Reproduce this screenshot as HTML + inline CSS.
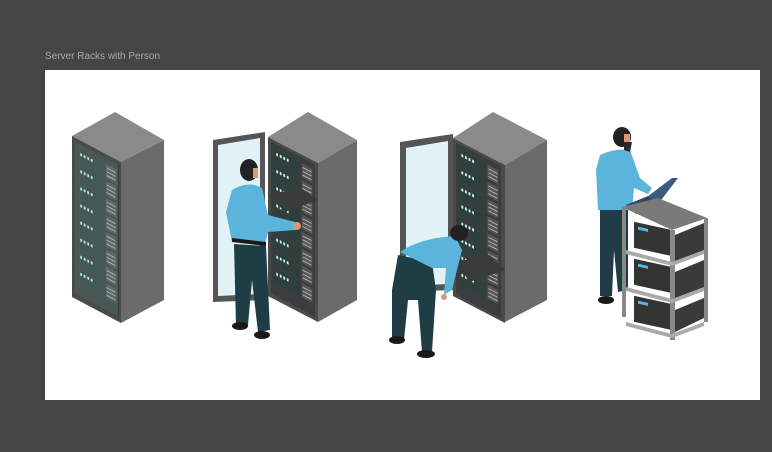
<!DOCTYPE html>
<html><head><meta charset="utf-8"><style>
html,body{margin:0;padding:0;background:#454545;width:772px;height:452px;overflow:hidden}
.lbl{position:absolute;left:45px;top:51px;font:10px "Liberation Sans",sans-serif;color:#a8a8a8}
svg{position:absolute;left:0;top:0}
</style></head><body>
<div class="lbl">Server Racks with Person</div>
<svg width="772" height="452" viewBox="0 0 772 452">
<defs>
<g id="units">
  <rect x="0" y="0" width="50" height="160" fill="#3a3d3d"/>
  <g id="u">
    <rect x="3" y="6" width="30" height="15" fill="#2e3f3c"/>
    <rect x="6" y="9" width="2" height="3" fill="#cfe"/><rect x="10" y="9" width="2" height="3" fill="#cfe"/><rect x="14" y="9" width="2" height="3" fill="#cfe"/><rect x="18" y="9" width="2" height="3" fill="#cfe"/>
    <rect x="35" y="6" width="12" height="15" fill="#555"/>
    <line x1="36" y1="10" x2="46" y2="10" stroke="#bbb" stroke-width="1"/><line x1="36" y1="14" x2="46" y2="14" stroke="#bbb" stroke-width="1"/><line x1="36" y1="18" x2="46" y2="18" stroke="#bbb" stroke-width="1"/>
  </g>
  <use href="#u" y="18"/><use href="#u" y="36"/><use href="#u" y="54"/><use href="#u" y="72"/><use href="#u" y="90"/><use href="#u" y="108"/><use href="#u" y="126"/>
</g>
</defs>
<rect x="45" y="70" width="715" height="330" fill="#fff"/>

<!-- Rack 1 -->
<polygon points="72,136 115,112 164,140 121,162" fill="#8a8a8a"/>
<polygon points="121,162 164,140 164,300 121,323" fill="#6b6b6b"/>
<g transform="matrix(1,0.53,0,1,72,136)">
  <rect x="0" y="0" width="49" height="161" fill="#4a4a4a"/>
  <g transform="translate(3,4) scale(0.88,0.95)"><use href="#units"/></g>
  <rect x="3" y="4" width="43" height="152" fill="#7fa8a0" opacity="0.25"/>
</g>

<!-- Rack 2 -->
<polygon points="213,140 265,132 265,300 213,302" fill="#555"/>
<polygon points="218,145 260,138 260,294 218,296" fill="#e2f3f8"/>
<polygon points="268,137 308,112 357,140 318,163" fill="#8a8a8a"/>
<polygon points="318,163 357,140 357,300 318,322" fill="#6b6b6b"/>
<g transform="matrix(1,0.52,0,1,268,137)">
  <rect x="0" y="0" width="50" height="159" fill="#4a4a4a"/>
  <g transform="translate(3,3) scale(0.88,0.95)"><use href="#units"/></g>
</g>
<polygon points="268,195 300,188 318,200 285,212" fill="#3b3b3b"/>
<!-- Person 1 -->
<polygon points="234,244 266,246 270,330 258,332 252,280 248,325 236,325" fill="#1f3d44"/>
<ellipse cx="240" cy="326" rx="8" ry="4" fill="#1a1a1a"/><ellipse cx="262" cy="335" rx="8" ry="4" fill="#1a1a1a"/>
<path d="M232,190 Q248,180 262,188 L268,215 L295,222 L296,230 L268,232 L265,245 L232,242 L226,212 Z" fill="#5ab4dc"/>
<polygon points="232,238 266,242 266,246 232,242" fill="#1a1a1a"/>
<ellipse cx="249" cy="170" rx="9" ry="11" fill="#222"/>
<rect x="253" y="168" width="5" height="10" fill="#d99a72"/>
<circle cx="297" cy="226" r="4" fill="#d99a72"/>

<!-- Rack 3 -->
<polygon points="400,142 453,134 453,290 400,292" fill="#555"/>
<polygon points="406,148 448,141 448,284 406,286" fill="#e2f3f8"/>
<polygon points="453,138 493,112 547,140 505,165" fill="#8a8a8a"/>
<polygon points="505,165 547,140 547,300 505,322" fill="#6b6b6b"/>
<g transform="matrix(1,0.52,0,1,453,138)">
  <rect x="0" y="0" width="52" height="158" fill="#4a4a4a"/>
  <g transform="translate(3,3) scale(0.9,0.95)"><use href="#units"/></g>
</g>
<polygon points="455,262 490,255 505,270 470,282" fill="#3b3b3b"/>
<!-- Person 2 -->
<polygon points="398,255 432,262 436,290 432,352 422,352 418,300 408,300 404,340 392,340 392,290" fill="#1f3d44"/>
<ellipse cx="397" cy="340" rx="8" ry="4" fill="#1a1a1a"/><ellipse cx="426" cy="354" rx="9" ry="4" fill="#1a1a1a"/>
<path d="M400,252 Q420,238 455,236 L462,250 L452,290 L444,295 L446,268 L432,268 Z" fill="#5ab4dc"/>
<ellipse cx="459" cy="233" rx="9" ry="8" fill="#222"/>
<circle cx="444" cy="297" r="3" fill="#d99a72"/>

<!-- Person 3 -->
<polygon points="600,208 628,206 628,290 618,292 614,250 612,296 600,296" fill="#1f3d44"/>
<ellipse cx="606" cy="300" rx="8" ry="4" fill="#1a1a1a"/>
<path d="M600,155 Q615,148 630,150 L640,178 L652,188 L648,194 L634,188 L632,210 L598,210 L596,170 Z" fill="#5ab4dc"/>
<ellipse cx="622" cy="137" rx="9" ry="10" fill="#222"/>
<rect x="624" y="134" width="6" height="8" fill="#d99a72"/>
<path d="M624,142 L632,142 L630,152 L624,150 Z" fill="#2a2a2a"/>
<polygon points="643,200 672,178 678,178 652,212" fill="#3d5a80"/>
<polygon points="626,205 648,196 660,205 636,214" fill="#2f4866"/>
<!-- Shelf -->
<polygon points="622,207 658,198 707,218 672,230" fill="#7a7a7a"/>
<rect x="622" y="207" width="4" height="110" fill="#888"/>
<rect x="704" y="218" width="4" height="104" fill="#888"/>
<rect x="670" y="230" width="5" height="110" fill="#888"/>
<g transform="matrix(1,0.22,0,1,626,212)">
  <rect x="8" y="8" width="36" height="26" fill="#333"/>
  <rect x="8" y="45" width="36" height="26" fill="#333"/>
  <rect x="8" y="82" width="36" height="26" fill="#333"/>
  <rect x="12" y="12" width="10" height="3" fill="#5ab4dc"/><rect x="12" y="49" width="10" height="3" fill="#5ab4dc"/><rect x="12" y="86" width="10" height="3" fill="#5ab4dc"/>
</g>
<polygon points="675,235 704,223 704,250 675,264" fill="#3a3a3a"/>
<polygon points="675,272 704,260 704,288 675,302" fill="#3a3a3a"/>
<polygon points="675,310 704,298 704,318 675,332" fill="#3a3a3a"/>
<polygon points="626,250 672,262 704,250 704,254 672,266 626,254" fill="#aaa"/>
<polygon points="626,287 672,299 704,287 704,291 672,303 626,291" fill="#aaa"/>
<polygon points="626,322 672,334 704,322 704,326 672,338 626,326" fill="#aaa"/>
</svg>
</body></html>
